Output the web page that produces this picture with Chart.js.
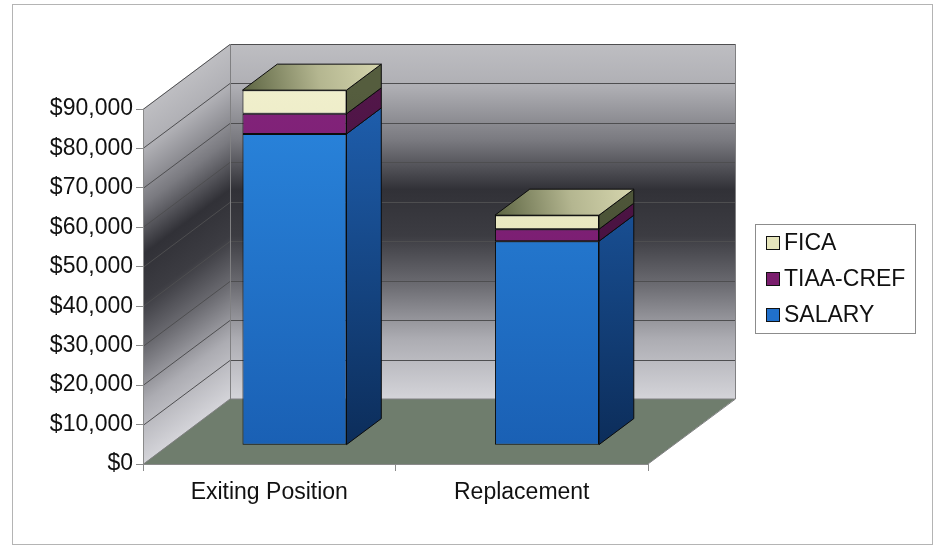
<!DOCTYPE html>
<html>
<head>
<meta charset="utf-8">
<script src="https://cdn.jsdelivr.net/npm/chart.js@4.4.1/dist/chart.umd.min.js"></script>
<style>
  html, body { margin: 0; padding: 0; background: #fff; }
  canvas { display: block; }
</style>
</head>
<body>
<canvas id="c" width="935" height="545"></canvas>
<script>
// ---- data ----
const categories = ['Exiting Position', 'Replacement'];
const salary   = [78900, 51700];
const tiaaCref = [5100, 3050];
const fica     = [6000, 3550];
const yMax  = 90000;
const yStep = 10000;

// ---- 3D look ----
// oblique offset of the whole plot box (front plane -> back wall)
const DEPTH = { dx: 87, dy: -65 };
// columns occupy this slice of the depth (0 = front, 1 = back)
const FRONT_T = 0.29, BACK_T = 0.69;
const FONT = "'Liberation Sans', Arial, Helvetica, sans-serif";
const FONT_SIZE = 23;

const faces = {
  SALARY:      { front: ['#2a86de', '#1a60b4'], side: ['#1f60b0', '#0c2d5a'], swatch: '#2070cc' },
  'TIAA-CREF': { front: ['#82237a', '#74196a'], side: ['#521649', '#3e0e37'], swatch: '#7a1d6d' },
  FICA:        { front: ['#f0efcc', '#dcdbae'], side: ['#555d3e', '#3c432c'], swatch: '#e6e5bb' }
};

function vGrad(ctx, y0, y1, c0, c1) {
  const g = ctx.createLinearGradient(0, y0, 0, y1);
  g.addColorStop(0, c0);
  g.addColorStop(1, c1);
  return g;
}

function frontFill(name) {
  return (c) => {
    const a = c.chart.chartArea;
    if (!a) return faces[name].swatch;
    return vGrad(c.chart.ctx, a.top, a.bottom, faces[name].front[0], faces[name].front[1]);
  };
}

function wallStops(g) {
  g.addColorStop(0.00, '#bebec2');
  g.addColorStop(0.12, '#afafb4');
  g.addColorStop(0.27, '#7a7a80');
  g.addColorStop(0.41, '#313137');
  g.addColorStop(0.54, '#3c3c42');
  g.addColorStop(0.68, '#6c6c72');
  g.addColorStop(0.83, '#acacb2');
  g.addColorStop(1.00, '#d4d4d9');
  return g;
}

function poly(ctx, pts, fill, stroke) {
  ctx.beginPath();
  ctx.moveTo(pts[0][0], pts[0][1]);
  for (let i = 1; i < pts.length; i++) ctx.lineTo(pts[i][0], pts[i][1]);
  ctx.closePath();
  if (fill) { ctx.fillStyle = fill; ctx.fill(); }
  if (stroke) { ctx.strokeStyle = stroke; ctx.lineWidth = 1; ctx.stroke(); }
}

// walls, floor, wall gridlines and the column side/top faces
const box3d = {
  id: 'box3d',
  beforeDraw(chart) {
    const { ctx, chartArea: a, scales: { y } } = chart;
    const { dx, dy } = DEPTH;
    const h = a.bottom - a.top;
    ctx.save();

    // back wall
    ctx.fillStyle = wallStops(ctx.createLinearGradient(0, a.top + dy, 0, a.bottom + dy));
    ctx.fillRect(a.left + dx, a.top + dy, a.right - a.left, h);

    // side wall, filled in its own skewed space
    ctx.save();
    ctx.transform(dx, dy, 0, h, a.left, a.top);
    ctx.fillStyle = wallStops(ctx.createLinearGradient(0, 0, 0, 1));
    ctx.fillRect(0, 0, 1, 1);
    ctx.restore();

    // floor
    poly(ctx, [[a.left, a.bottom], [a.right, a.bottom], [a.right + dx, a.bottom + dy], [a.left + dx, a.bottom + dy]],
      '#6f7d6d', null);

    // gridlines on side and back walls
    ctx.strokeStyle = '#4e4e50';
    ctx.lineWidth = 1;
    y.ticks.forEach((t) => {
      if (t.value === 0) return;
      const py = Math.round(y.getPixelForValue(t.value)) + 0.5;
      ctx.beginPath();
      ctx.moveTo(a.left, py);
      ctx.lineTo(a.left + dx, py + dy);
      ctx.lineTo(a.right + dx, py + dy);
      ctx.stroke();
    });

    // box edges
    ctx.strokeStyle = '#808082';
    ctx.beginPath();
    ctx.moveTo(a.left + dx + 0.5, a.top + dy);
    ctx.lineTo(a.left + dx + 0.5, a.bottom + dy);
    ctx.lineTo(a.right + dx, a.bottom + dy);
    ctx.moveTo(a.right + dx + 0.5, a.top + dy);
    ctx.lineTo(a.right + dx + 0.5, a.bottom + dy);
    ctx.lineTo(a.right, a.bottom);
    ctx.moveTo(a.left, a.bottom + 0.5);
    ctx.lineTo(a.left + dx, a.bottom + dy);
    ctx.stroke();

    // outer frame
    ctx.strokeStyle = '#b4b4b4';
    ctx.strokeRect(12.5, 4.5, 920, 540);
    ctx.restore();
  },

  beforeDatasetsDraw(chart) {
    const { ctx, chartArea: a } = chart;
    const fx = DEPTH.dx * FRONT_T, fy = DEPTH.dy * FRONT_T;
    const bx = DEPTH.dx * (BACK_T - FRONT_T), by = DEPTH.dy * (BACK_T - FRONT_T);
    const last = chart.data.datasets.length - 1;
    ctx.save();
    chart.data.datasets.forEach((ds, di) => {
      const f = faces[ds.label];
      chart.getDatasetMeta(di).data.forEach((bar) => {
        const { x, y, base, width } = bar.getProps(['x', 'y', 'base', 'width'], true);
        const l = x - width / 2 + fx, r = x + width / 2 + fx;
        const top = y + fy, bot = base + fy;
        poly(ctx, [[r, top], [r + bx, top + by], [r + bx, bot + by], [r, bot]],
          vGrad(ctx, a.top + fy, a.bottom + fy, f.side[0], f.side[1]), '#0c0c0c');
        if (di === last) {
          const g = ctx.createLinearGradient(l, top, r + bx, top + by);
          g.addColorStop(0, '#5c6442');
          g.addColorStop(0.55, '#b4b690');
          g.addColorStop(1, '#d6d6ae');
          poly(ctx, [[l, top], [r, top], [r + bx, top + by], [l + bx, top + by]], g, '#0c0c0c');
        }
      });
    });
    ctx.restore();
    // front faces are drawn by the library, shifted into the column plane
    ctx.save();
    ctx.translate(fx, fy);
  },
  afterDatasetsDraw(chart) {
    chart.ctx.restore();
  }
};

// framed legend on the right, top entry = top of the stack
const boxLegend = {
  id: 'boxLegend',
  afterDraw(chart) {
    const { ctx } = chart;
    const x0 = 755, y0 = 224, w = 160, h = 109;
    ctx.save();
    ctx.strokeStyle = '#8c8c8c';
    ctx.lineWidth = 1;
    ctx.strokeRect(x0 + 0.5, y0 + 0.5, w, h);
    const items = chart.data.datasets.slice().reverse();
    ctx.font = FONT_SIZE + 'px ' + FONT;
    ctx.textBaseline = 'middle';
    ctx.textAlign = 'left';
    items.forEach((ds, i) => {
      const cy = y0 + 19 + i * 36;
      ctx.fillStyle = faces[ds.label].swatch;
      ctx.fillRect(766, cy - 7, 14, 14);
      ctx.strokeStyle = '#111';
      ctx.strokeRect(766.5, cy - 6.5, 13, 13);
      ctx.fillStyle = '#111';
      ctx.fillText(ds.label, 784, cy + 1);
    });
    ctx.restore();
  }
};

const common = {
  borderColor: '#0c0c0c',
  borderWidth: 1,
  borderSkipped: false,
  categoryPercentage: 1,
  barPercentage: 0.412,
  clip: false
};

new Chart(document.getElementById('c'), {
  type: 'bar',
  data: {
    labels: categories,
    datasets: [
      { label: 'SALARY',    data: salary,   backgroundColor: frontFill('SALARY'),    ...common },
      { label: 'TIAA-CREF', data: tiaaCref, backgroundColor: frontFill('TIAA-CREF'), ...common },
      { label: 'FICA',      data: fica,     backgroundColor: frontFill('FICA'),      ...common }
    ]
  },
  options: {
    responsive: false,
    devicePixelRatio: 1,
    animation: false,
    layout: { padding: { left: 0, top: 109, right: 287, bottom: 0 } },
    plugins: { legend: { display: false }, tooltip: { enabled: false } },
    scales: {
      x: {
        stacked: true,
        grid: { display: true, drawOnChartArea: false, offset: true, tickLength: 7, color: '#8a8a8a' },
        border: { display: true, color: '#8a8a8a' },
        ticks: { color: '#111', font: { family: FONT, size: FONT_SIZE }, padding: 8, maxRotation: 0 },
        afterFit(s) { s.height = 81; }
      },
      y: {
        stacked: true,
        min: 0,
        max: yMax,
        grid: { display: true, drawOnChartArea: false, tickLength: 7, color: '#8a8a8a' },
        border: { display: true, color: '#8a8a8a' },
        ticks: {
          stepSize: yStep,
          color: '#111',
          padding: 3,
          font: { family: FONT, size: FONT_SIZE },
          callback: (v) => '$' + Number(v).toLocaleString('en-US')
        },
        afterFit(s) { s.width = 143; }
      }
    }
  },
  plugins: [box3d, boxLegend]
});
</script>
</body>
</html>
